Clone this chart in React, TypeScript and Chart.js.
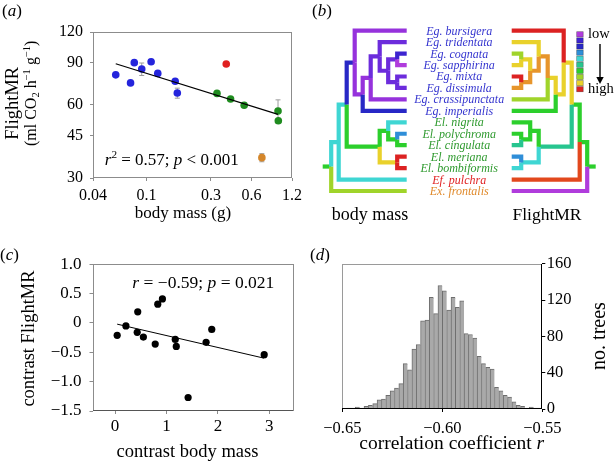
import React, { useEffect, useRef } from 'react';
import { Chart, registerables } from 'chart.js';

Chart.register(...registerables);

const SERIF = '"Liberation Serif", "Times New Roman", Times, serif';
Chart.defaults.font.family = SERIF;
Chart.defaults.color = '#000';

// ---------------- (a) body mass vs FlightMR ----------------
const A_BLUE_MASS = [0.059, 0.076, 0.081, 0.092, 0.108, 0.121, 0.163, 0.169];
const A_BLUE_MR = [79.9, 74.0, 89.7, 84.4, 90.5, 81.0, 75.2, 67.2];
const A_BLUE_ERR = [0, 0, 0, 5.0, 2.0, 0, 0, 3.2];
const A_GREEN_MASS = [0.333, 0.42, 0.53, 0.945, 0.95];
const A_GREEN_MR = [67.0, 63.5, 59.9, 56.7, 51.7];
const A_GREEN_ERR = [0, 0, 0, 6.3, 0];
const A_RED_MASS = [0.39];
const A_RED_MR = [88.5];
const A_ORANGE_MASS = [0.717];
const A_ORANGE_MR = [36.4];
const A_ORANGE_ERR = [1.4];
const A_FIT_MASS = [0.059, 0.945];
const A_FIT_MR = [88.8, 54.9];
const A_X_TICKS = [0.04, 0.1, 0.3, 0.6, 1.2];
const A_Y_TICKS = [30, 45, 60, 90, 120];

// ---------------- (b) trees ----------------
const TIP_NAMES = [
  'Eg. bursigera', 'Eg. tridentata', 'Eg. cognata', 'Eg. sapphirina', 'Eg. mixta',
  'Eg. dissimula', 'Eg. crassipunctata', 'Eg. imperialis', 'El. nigrita', 'El. polychroma',
  'El. cingulata', 'El. meriana', 'El. bombiformis', 'Ef. pulchra', 'Ex. frontalis',
];
const GENUS_COLOR: Record<string, string> = { Eg: '#3535cf', El: '#2f9a2f', Ef: '#e02222', Ex: '#e08a2c' };
const NODE_IDS = ['F', 'G', 'E', 'D', 'C', 'B', 'Eg', 'N3', 'N1', 'N2', 'El', 'EgEl', 'EgElEf', 'root'];
const NODE_KIDS: Array<[number | string, number | string]> = [
  [2, 3], [4, 5], ['F', 'G'], [1, 'E'], ['D', 6], ['C', 7], [0, 'B'],
  [9, 10], [8, 'N3'], [11, 12], ['N1', 'N2'], ['Eg', 'El'], ['EgEl', 13], ['EgElEf', 14],
];
const NODE_DEPTH = [9.5, 9.5, 18.5, 27, 36, 44, 52, 9.5, 18.5, 9.5, 27, 60, 68, 75.5];
const ROOT_STUB = 8.5;
const PAL: Record<string, string> = {
  mag: '#b03cdc', pur: '#9632dc', vio: '#6c2cdc', ind: '#3d24d0', blu: '#2828c6',
  lbl: '#2f8ed8', cya: '#3fd6d3', tea: '#27c58f', grn: '#2ccf2c', ygn: '#a0d42a',
  yel: '#e9d12b', ora: '#e7952b', orr: '#e2481d', red: '#dc2222',
};
const TIP_MASS = ['pur', 'vio', 'ind', 'mag', 'vio', 'vio', 'pur', 'blu', 'cya', 'lbl', 'grn', 'red', 'red', 'cya', 'ygn'];
const TIP_MR = ['red', 'yel', 'ygn', 'yel', 'red', 'ora', 'ygn', 'grn', 'grn', 'grn', 'tea', 'lbl', 'cya', 'orr', 'mag'];
const NODE_MASS = ['vio', 'vio', 'vio', 'vio', 'pur', 'pur', 'blu', 'grn', 'grn', 'yel', 'grn', 'cya', 'cya', 'grn'];
const NODE_MR = ['yel', 'ora', 'ora', 'ora', 'yel', 'yel', 'yel', 'grn', 'grn', 'cya', 'tea', 'grn', 'grn', 'grn'];
const LEGEND_KEYS = ['mag', 'ind', 'blu', 'lbl', 'cya', 'tea', 'grn', 'ygn', 'yel', 'red'];

// ---------------- (c) contrasts ----------------
const C_X = [0.04, 0.21, 0.44, 0.43, 0.55, 0.78, 0.83, 0.92, 1.17, 1.19, 1.42, 1.77, 1.88, 2.9];
const C_Y = [-0.21, -0.05, 0.19, -0.16, -0.24, -0.36, 0.32, 0.41, -0.28, -0.4, -1.27, -0.33, -0.11, -0.54];
const C_FIT_X = [0.04, 2.9];
const C_FIT_Y = [-0.02, -0.6];
const C_X_TICKS = [0, 1, 2, 3];
const C_Y_TICKS = [-1.5, -1.0, -0.5, 0, 0.5, 1.0];

// ---------------- (d) histogram ----------------
const D_BIN_START = -0.65;
const D_BIN_END = -0.55;
const D_COUNTS = [
  0, 1, 1, 2, 1, 3, 4, 6, 10, 11, 15, 20, 23, 28, 50, 43, 66, 71, 97, 98, 123, 105, 136,
  130, 109, 123, 112, 119, 83, 82, 78, 58, 50, 46, 44, 24, 20, 15, 13, 8, 4, 3, 1, 2, 1, 1,
];
const D_X_TICKS = [-0.65, -0.6, -0.55];
const D_Y_TICKS = [0, 40, 80, 120, 160];

// ---------------- helpers ----------------
type Seg = { t: string; it?: boolean; sup?: boolean; sub?: boolean };
type TextItem = { x: number; y: number; size: number; segs: Seg[]; rot?: number; align?: 'left' | 'center' | 'right'; color?: string };

const pts = (xs: number[], ys: number[]) => xs.map((x, i) => ({ x, y: ys[i] }));
const minus = (s: string) => s.replace('-', '\u2212');

function drawRich(ctx: CanvasRenderingContext2D, item: TextItem) {
  const { x, y, size, segs, rot = 0, align = 'center', color = '#000' } = item;
  ctx.save();
  ctx.translate(x, y);
  if (rot) ctx.rotate(rot);
  const fontOf = (s: Seg) => `${s.it ? 'italic ' : ''}${s.sup || s.sub ? size * 0.66 : size}px ${SERIF}`;
  const widths = segs.map((s) => {
    ctx.font = fontOf(s);
    return ctx.measureText(s.t).width;
  });
  const total = widths.reduce((a, b) => a + b, 0);
  let cx = align === 'center' ? -total / 2 : align === 'right' ? -total : 0;
  ctx.fillStyle = color;
  ctx.textAlign = 'left';
  ctx.textBaseline = 'alphabetic';
  const base = size * 0.33;
  segs.forEach((s, i) => {
    ctx.font = fontOf(s);
    const dy = s.sup ? -size * 0.4 : s.sub ? size * 0.2 : 0;
    ctx.fillText(s.t, cx, base + dy);
    cx += widths[i];
  });
  ctx.restore();
}

const textPlugin = (items: TextItem[], extra?: (chart: any) => void) => ({
  id: 'richText',
  afterDraw(chart: any) {
    items.forEach((it) => drawRich(chart.ctx, it));
    if (extra) extra(chart);
  },
});

const framePlugin = (c: { top: string; right: string; bottom: string; left: string }) => ({
  id: 'frame',
  afterDatasetsDraw(chart: any) {
    const { ctx } = chart;
    const { left, right, top, bottom } = chart.chartArea;
    const l = Math.round(left) + 0.5, r = Math.round(right) - 0.5, t = Math.round(top) + 0.5, b = Math.round(bottom) - 0.5;
    ctx.save();
    ctx.lineWidth = 1;
    const seg = (col: string, x1: number, y1: number, x2: number, y2: number) => {
      ctx.strokeStyle = col;
      ctx.beginPath();
      ctx.moveTo(x1, y1);
      ctx.lineTo(x2, y2);
      ctx.stroke();
    };
    seg(c.top, l - 0.5, t, r + 0.5, t);
    seg(c.left, l, t - 0.5, l, b + 0.5);
    seg(c.bottom, l - 0.5, b, r + 0.5, b);
    seg(c.right, r, t - 0.5, r, b + 0.5);
    ctx.restore();
  },
});

const errorBarPlugin = {
  id: 'errorBars',
  beforeDatasetsDraw(chart: any) {
    const { ctx } = chart;
    const xs = chart.scales.x, ys = chart.scales.y;
    chart.data.datasets.forEach((ds: any) => {
      if (!ds.errors) return;
      ds.data.forEach((p: any, i: number) => {
        const e = ds.errors[i];
        if (!e) return;
        const px = xs.getPixelForValue(p.x);
        const y1 = ys.getPixelForValue(p.y + e), y2 = ys.getPixelForValue(p.y - e);
        ctx.save();
        ctx.strokeStyle = '#9c9c9c';
        ctx.lineWidth = 1;
        ctx.beginPath();
        ctx.moveTo(px, y1); ctx.lineTo(px, y2);
        ctx.moveTo(px - 2.5, y1); ctx.lineTo(px + 2.5, y1);
        ctx.moveTo(px - 2.5, y2); ctx.lineTo(px + 2.5, y2);
        ctx.stroke();
        ctx.restore();
      });
    });
  },
};

const GRAY = '#8c8c8c';
const tickFont = (size: number) => ({ family: SERIF, size });
const fixedTicks = (vals: number[]) => (s: any) => { s.ticks = vals.map((v) => ({ value: v })); };
const ROT = -Math.PI / 2;

function treeDatasets(sign: number, tipColors: string[], nodeColors: string[]) {
  const TREE_GAP = 52.5;
  const memo: Record<string, number> = {};
  const idx = (k: string) => NODE_IDS.indexOf(k);
  const ypos = (k: number | string): number => {
    if (typeof k === 'number') return k;
    if (memo[k] === undefined) {
      const [a, b] = NODE_KIDS[idx(k)];
      memo[k] = (ypos(a) + ypos(b)) / 2;
    }
    return memo[k];
  };
  const depthOf = (k: number | string) => (typeof k === 'number' ? 0 : NODE_DEPTH[idx(k)]);
  const X = (d: number) => sign * (TREE_GAP + d);
  const line = (data: { x: number; y: number }[], color: string) => ({
    data, showLine: true, borderColor: color, backgroundColor: color, borderWidth: 4.2,
    pointRadius: 0, tension: 0, borderJoinStyle: 'miter', borderCapStyle: 'butt', fill: false,
  });
  const out: any[] = [];
  NODE_IDS.forEach((id, ni) => {
    const px = X(NODE_DEPTH[ni]);
    const py = ypos(id);
    NODE_KIDS[ni].forEach((k) => {
      const col = typeof k === 'number' ? tipColors[k] : nodeColors[idx(k)];
      out.push(line([{ x: px, y: py }, { x: px, y: ypos(k) }, { x: X(depthOf(k)), y: ypos(k) }], PAL[col]));
    });
  });
  const ri = idx('root');
  out.push(line([{ x: X(NODE_DEPTH[ri]), y: ypos('root') }, { x: X(NODE_DEPTH[ri] + ROOT_STUB), y: ypos('root') }], PAL[nodeColors[ri]]));
  return out;
}

export default function App() {
  const aRef = useRef<HTMLCanvasElement>(null);
  const bRef = useRef<HTMLCanvasElement>(null);
  const cRef = useRef<HTMLCanvasElement>(null);
  const dRef = useRef<HTMLCanvasElement>(null);

  useEffect(() => {
    const charts: Chart[] = [];
    const base = { responsive: false, animation: false as const, events: [] as any[] };
    const noPlug = { legend: { display: false }, tooltip: { enabled: false } };

    // ---------- (a) ----------
    charts.push(new Chart(aRef.current!, {
      type: 'scatter',
      data: {
        datasets: [
          { data: pts(A_FIT_MASS, A_FIT_MR), showLine: true, borderColor: '#000', borderWidth: 1.2, pointRadius: 0 },
          { data: pts(A_BLUE_MASS, A_BLUE_MR), errors: A_BLUE_ERR, backgroundColor: '#2424dc', pointRadius: 3.8, borderWidth: 0 },
          { data: pts(A_GREEN_MASS, A_GREEN_MR), errors: A_GREEN_ERR, backgroundColor: '#1f8c1f', pointRadius: 3.8, borderWidth: 0 },
          { data: pts(A_RED_MASS, A_RED_MR), backgroundColor: '#e02020', pointRadius: 3.8, borderWidth: 0 },
          { data: pts(A_ORANGE_MASS, A_ORANGE_MR), errors: A_ORANGE_ERR, backgroundColor: '#d4862a', pointRadius: 3.8, borderWidth: 0 },
        ] as any,
      },
      options: {
        ...base,
        layout: { padding: { left: 0, top: 32, right: 14, bottom: 0 } },
        plugins: noPlug,
        scales: {
          x: {
            type: 'logarithmic', min: 0.04, max: 1.2,
            afterBuildTicks: fixedTicks(A_X_TICKS), afterFit: (s: any) => { s.height = 52; },
            ticks: { autoSkip: false, maxRotation: 0, padding: 5, font: tickFont(16), color: '#000', callback: (v: any) => String(v) },
            grid: { drawOnChartArea: false, tickLength: 3, color: GRAY }, border: { display: false },
          },
          y: {
            type: 'logarithmic', min: 30, max: 120,
            afterBuildTicks: fixedTicks(A_Y_TICKS), afterFit: (s: any) => { s.width = 93; },
            ticks: { autoSkip: false, padding: 7, font: tickFont(16), color: '#000', callback: (v: any) => String(v) },
            grid: { drawOnChartArea: false, tickLength: 3, color: GRAY }, border: { display: false },
          },
        },
      } as any,
      plugins: [
        errorBarPlugin,
        framePlugin({ top: GRAY, right: GRAY, bottom: GRAY, left: GRAY }),
        textPlugin([
          { x: 2, y: 10.5, size: 17, align: 'left', segs: [{ t: '(' }, { t: 'a', it: true }, { t: ')' }] },
          { x: 11.5, y: 103.3, size: 18.5, rot: ROT, segs: [{ t: 'FlightMR' }] },
          { x: 31, y: 93.3, size: 16, rot: ROT, segs: [{ t: '(ml CO' }, { t: '2', sub: true }, { t: ' h' }, { t: '\u22121', sup: true }, { t: ' g' }, { t: '\u22121', sup: true }, { t: ')' }] },
          { x: 183, y: 212.7, size: 17, segs: [{ t: 'body mass (g)' }] },
          { x: 171.7, y: 159.4, size: 17, segs: [{ t: 'r', it: true }, { t: '2', sup: true }, { t: ' = 0.57; ' }, { t: 'p', it: true }, { t: ' < 0.001' }] },
        ]),
      ] as any,
    }));

    // ---------- (b) ----------
    const bLabels = (chart: any) => {
      const ctx = chart.ctx as CanvasRenderingContext2D;
      const xs = chart.scales.x, ys = chart.scales.y;
      const cx = xs.getPixelForValue(0);
      ctx.save();
      ctx.font = `italic 12px ${SERIF}`;
      ctx.textAlign = 'center';
      ctx.textBaseline = 'alphabetic';
      TIP_NAMES.forEach((name, i) => {
        ctx.fillStyle = GENUS_COLOR[name.split('.')[0]];
        ctx.fillText(name, cx, ys.getPixelForValue(i) + 4);
      });
      // colour legend
      LEGEND_KEYS.forEach((k, i) => {
        ctx.fillStyle = PAL[k];
        ctx.fillRect(269.7, 31.7 + i * 6.1, 6.5, 5.2);
        ctx.strokeStyle = 'rgba(0,0,0,0.45)';
        ctx.lineWidth = 0.6;
        ctx.strokeRect(269.7, 31.7 + i * 6.1, 6.5, 5.2);
      });
      ctx.strokeStyle = '#000';
      ctx.lineWidth = 1.4;
      ctx.beginPath();
      ctx.moveTo(293, 44);
      ctx.lineTo(293, 78);
      ctx.stroke();
      ctx.fillStyle = '#000';
      ctx.beginPath();
      ctx.moveTo(289.3, 77);
      ctx.lineTo(296.7, 77);
      ctx.lineTo(293, 84);
      ctx.closePath();
      ctx.fill();
      ctx.restore();
    };
    charts.push(new Chart(bRef.current!, {
      type: 'scatter',
      data: { datasets: [...treeDatasets(-1, TIP_MASS, NODE_MASS), ...treeDatasets(1, TIP_MR, NODE_MR)] as any },
      options: {
        ...base,
        layout: { padding: 0 },
        plugins: noPlug,
        scales: {
          x: { type: 'linear', display: false, min: -152.2, max: 154.8 },
          y: { type: 'linear', display: false, reverse: true, min: -2.681, max: 17.406 },
        },
      } as any,
      plugins: [
        textPlugin([
          { x: 5, y: 10.5, size: 17, align: 'left', segs: [{ t: '(' }, { t: 'b', it: true }, { t: ')' }] },
          { x: 63, y: 214, size: 18, segs: [{ t: 'body mass' }] },
          { x: 240, y: 214, size: 17.5, segs: [{ t: 'FlightMR' }] },
          { x: 281, y: 33.4, size: 14.5, align: 'left', segs: [{ t: 'low' }] },
          { x: 281, y: 88.4, size: 14.5, align: 'left', segs: [{ t: 'high' }] },
        ], bLabels),
      ] as any,
    }));

    // ---------- (c) ----------
    charts.push(new Chart(cRef.current!, {
      type: 'scatter',
      data: {
        datasets: [
          { data: pts(C_FIT_X, C_FIT_Y), showLine: true, borderColor: '#000', borderWidth: 1, pointRadius: 0 },
          { data: pts(C_X, C_Y), backgroundColor: '#000', pointRadius: 3.6, borderWidth: 0 },
        ] as any,
      },
      options: {
        ...base,
        layout: { padding: { left: 0, top: 34.3, right: 13, bottom: 0 } },
        plugins: noPlug,
        scales: {
          x: {
            type: 'linear', min: -0.44, max: 3.48,
            afterBuildTicks: fixedTicks(C_X_TICKS), afterFit: (s: any) => { s.height = 50; },
            ticks: { autoSkip: false, maxRotation: 0, padding: 2, font: tickFont(17), color: '#000', callback: (v: any) => String(v) },
            grid: { drawOnChartArea: false, tickLength: 3, color: GRAY }, border: { display: false },
          },
          y: {
            type: 'linear', min: -1.5, max: 1.0,
            afterBuildTicks: fixedTicks(C_Y_TICKS), afterFit: (s: any) => { s.width = 92.5; },
            ticks: { autoSkip: false, padding: 8, font: tickFont(17), color: '#000', callback: (v: any) => (v === 0 ? '0' : minus(Number(v).toFixed(1))) },
            grid: { drawOnChartArea: false, tickLength: 3, color: GRAY }, border: { display: false },
          },
        },
      } as any,
      plugins: [
        framePlugin({ top: GRAY, right: GRAY, bottom: '#555', left: GRAY }),
        textPlugin([
          { x: 0, y: 24.5, size: 17, align: 'left', segs: [{ t: '(' }, { t: 'c', it: true }, { t: ')' }] },
          { x: 27.5, y: 108.5, size: 18.5, rot: ROT, segs: [{ t: 'contrast FlightMR' }] },
          { x: 187.5, y: 220.6, size: 18.5, segs: [{ t: 'contrast body mass' }] },
          { x: 203.3, y: 52.5, size: 17.5, segs: [{ t: 'r', it: true }, { t: ' = \u22120.59; ' }, { t: 'p', it: true }, { t: ' = 0.021' }] },
        ]),
      ] as any,
    }));

    // ---------- (d) ----------
    const binW = (D_BIN_END - D_BIN_START) / D_COUNTS.length;
    charts.push(new Chart(dRef.current!, {
      type: 'bar',
      data: {
        datasets: [{
          data: D_COUNTS.map((c, i) => ({ x: D_BIN_START + (i + 0.5) * binW, y: c })),
          backgroundColor: '#a9a9a9', borderColor: '#6e6e6e',
          borderWidth: { top: 1, left: 1, right: 0, bottom: 0 }, borderSkipped: false,
          barPercentage: 1, categoryPercentage: 1,
        }] as any,
      },
      options: {
        ...base,
        layout: { padding: { left: 35.3, top: 33.7, right: 0, bottom: 0 } },
        plugins: noPlug,
        scales: {
          x: {
            type: 'linear', min: D_BIN_START, max: D_BIN_END, offset: false,
            afterBuildTicks: fixedTicks(D_X_TICKS), afterFit: (s: any) => { s.height = 52; },
            ticks: { autoSkip: false, maxRotation: 0, padding: 7, font: tickFont(16.5), color: '#000', callback: (v: any) => minus(Number(v).toFixed(2)) },
            grid: { drawOnChartArea: false, tickLength: 3, color: '#000', offset: false }, border: { display: false },
          },
          y: {
            type: 'linear', position: 'right', min: 0, max: 160,
            afterBuildTicks: fixedTicks(D_Y_TICKS), afterFit: (s: any) => { s.width = 71.7; },
            ticks: { autoSkip: false, padding: 1.5, font: tickFont(16.5), color: '#000', callback: (v: any) => String(v) },
            grid: { drawOnChartArea: false, tickLength: 3, color: '#000' }, border: { display: false },
          },
        },
      } as any,
      plugins: [
        framePlugin({ top: '#9a9a9a', right: '#000', bottom: '#000', left: '#9a9a9a' }),
        textPlugin([
          { x: 3, y: 24, size: 17, align: 'left', segs: [{ t: '(' }, { t: 'd', it: true }, { t: ')' }] },
          { x: 144.7, y: 213, size: 19.5, segs: [{ t: 'correlation coefficient ' }, { t: 'r', it: true }] },
          { x: 291.4, y: 106, size: 20, rot: ROT, segs: [{ t: 'no. trees' }] },
        ]),
      ] as any,
    }));

    return () => charts.forEach((c) => c.destroy());
  }, []);

  const cv = (left: number, top: number, w: number, h: number) => ({
    position: 'absolute' as const, left, top, width: w, height: h, display: 'block',
  });

  return (
    <div style={{ position: 'absolute', left: 0, top: 0, width: 614, height: 461, background: '#fff', overflow: 'hidden' }}>
      <canvas ref={aRef} width={307} height={230} style={cv(0, 0, 307, 230)} />
      <canvas ref={bRef} width={307} height={230} style={cv(307, 0, 307, 230)} />
      <canvas ref={cRef} width={307} height={231} style={cv(0, 230, 307, 231)} />
      <canvas ref={dRef} width={307} height={231} style={cv(307, 230, 307, 231)} />
    </div>
  );
}
